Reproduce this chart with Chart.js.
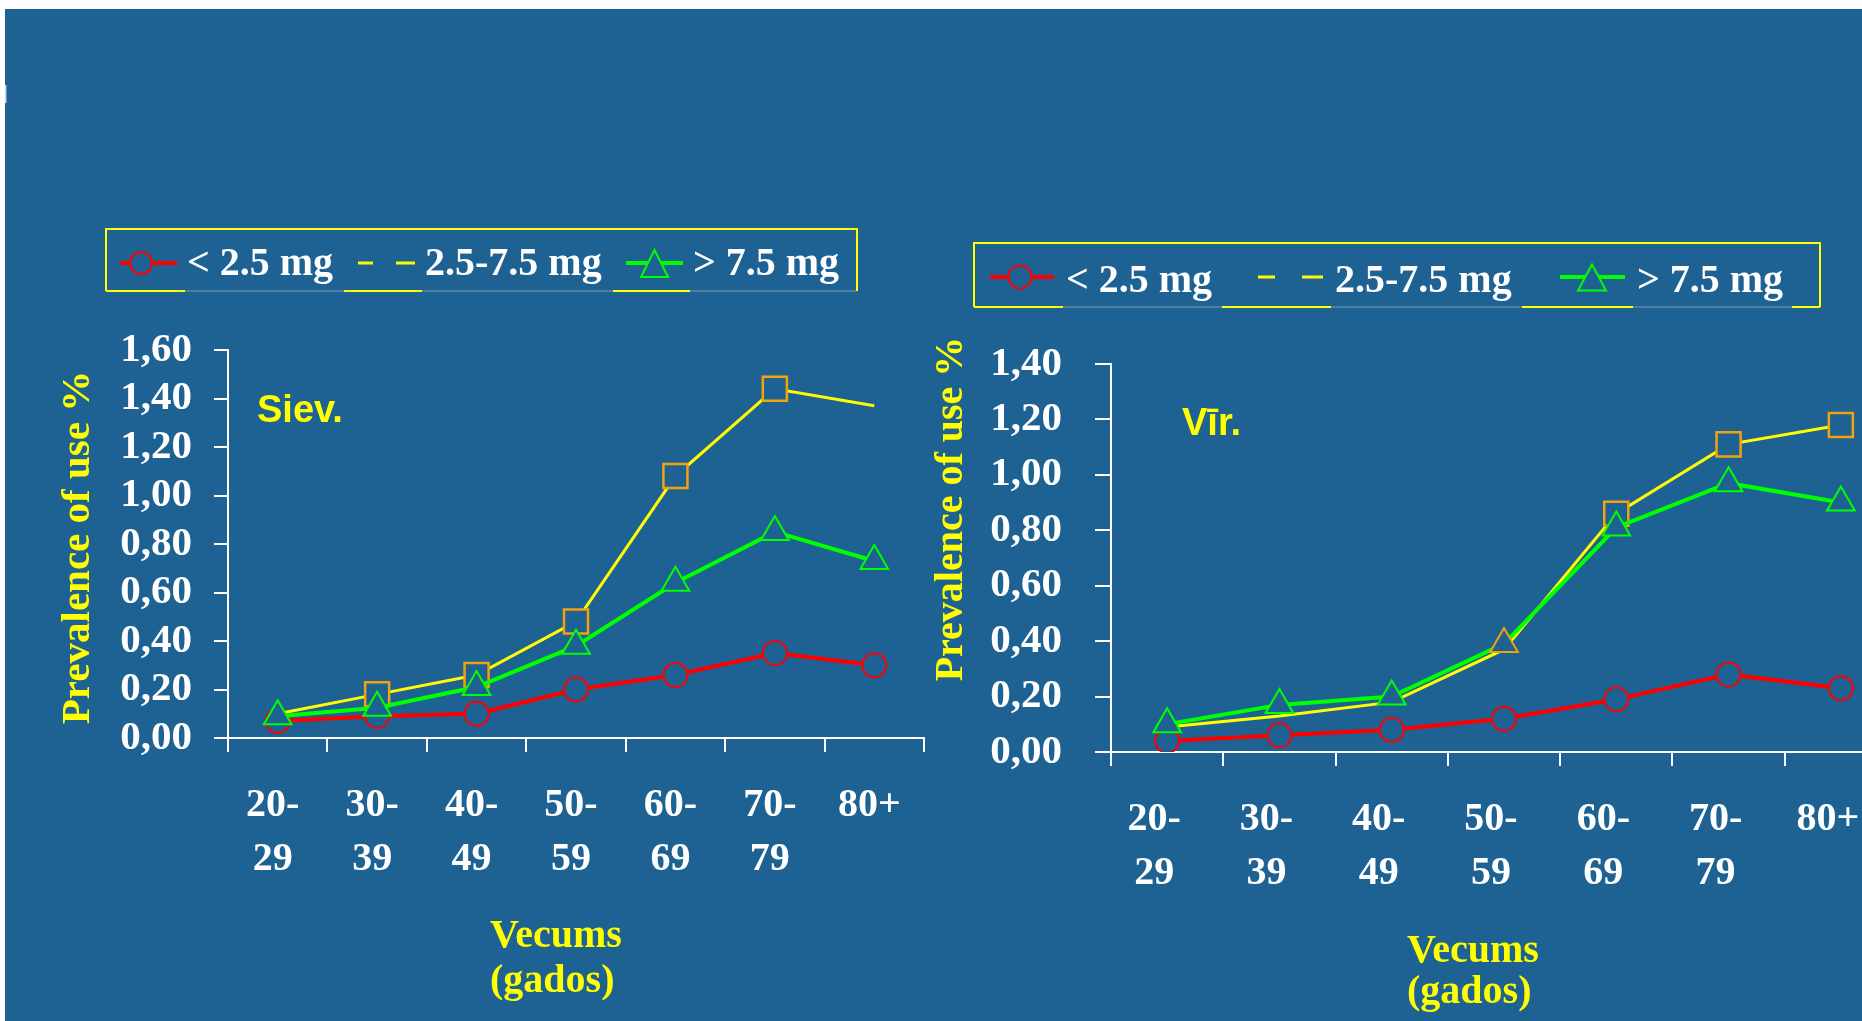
<!DOCTYPE html>
<html>
<head>
<meta charset="utf-8">
<title>Prevalence of use</title>
<script src="https://cdn.jsdelivr.net/npm/chart.js@4.4.1/dist/chart.umd.min.js"></script>
<style>
    html, body { margin: 0; width: 1862px; height: 1021px; overflow: hidden; background: #fff; }
    #slide { position: absolute; left: 5px; top: 9px; right: 0; bottom: 0; background: #1e6193; }
    canvas { position: absolute; }
    #sievChart { left: 0; top: 300px; }
    #virChart { left: 880px; top: 300px; }
    #overlay { position: absolute; left: 0; top: 0; }
    .serif { font-family: "Liberation Serif", "Times New Roman", serif; font-weight: bold; }
    .sans { font-family: "Liberation Sans", Arial, sans-serif; font-weight: bold; }
    .legtext { fill: #fff; font-size: 40px; }
    .yellow { fill: #ffff00; }
</style>
</head>
<body>
<div id="slide"></div>
<canvas id="sievChart" width="960" height="600"></canvas>
<canvas id="virChart" width="1040" height="620"></canvas>

<svg id="overlay" width="1862" height="1021">
    <rect x="5" y="85" width="1.5" height="18" fill="#c8d2dc"/>

    <!-- legend, women -->
    <line x1="106" y1="291" x2="857" y2="291" stroke="#4d7ea3" stroke-width="2"/>
    <polyline points="106,291 106,229 857,229 857,291" fill="none" stroke="#ffff00" stroke-width="2"/>
    <g stroke="#ffff00" stroke-width="2">
        <line x1="106" y1="291" x2="185" y2="291"/>
        <line x1="344" y1="291" x2="422" y2="291"/>
        <line x1="613" y1="291" x2="690" y2="291"/>
    </g>
    <line x1="120" y1="263" x2="177" y2="263" stroke="#ff0000" stroke-width="4"/>
    <circle cx="141" cy="263" r="11" fill="#1e6193" stroke="#ff0000" stroke-width="2"/>
    <text class="serif legtext" x="187" y="275">&lt; 2.5 mg</text>
    <line x1="358" y1="263" x2="373" y2="263" stroke="#ffff00" stroke-width="3"/>
    <line x1="396" y1="263" x2="415" y2="263" stroke="#ffff00" stroke-width="3"/>
    <text class="serif legtext" x="425" y="275">2.5-7.5 mg</text>
    <line x1="626" y1="263" x2="683" y2="263" stroke="#00ff00" stroke-width="4"/>
    <polygon points="654.5,250 641,277 668,277" fill="#1e6193" stroke="#00ff00" stroke-width="2"/>
    <text class="serif legtext" x="693" y="275">&gt; 7.5 mg</text>

    <!-- legend, men -->
    <line x1="974" y1="307" x2="1820" y2="307" stroke="#4d7ea3" stroke-width="2"/>
    <polyline points="974,307 974,243 1820,243 1820,307" fill="none" stroke="#ffff00" stroke-width="2"/>
    <g stroke="#ffff00" stroke-width="2">
        <line x1="974" y1="307" x2="1063" y2="307"/>
        <line x1="1222" y1="307" x2="1331" y2="307"/>
        <line x1="1522" y1="307" x2="1633" y2="307"/>
        <line x1="1792" y1="307" x2="1820" y2="307"/>
    </g>
    <line x1="990" y1="277" x2="1054" y2="277" stroke="#ff0000" stroke-width="4"/>
    <circle cx="1020" cy="277" r="11.5" fill="#1e6193" stroke="#ff0000" stroke-width="2"/>
    <text class="serif legtext" x="1066" y="291.5">&lt; 2.5 mg</text>
    <line x1="1258" y1="277" x2="1275" y2="277" stroke="#ffff00" stroke-width="3"/>
    <line x1="1302" y1="277" x2="1323" y2="277" stroke="#ffff00" stroke-width="3"/>
    <text class="serif legtext" x="1335" y="291.5">2.5-7.5 mg</text>
    <line x1="1560" y1="277" x2="1625" y2="277" stroke="#00ff00" stroke-width="4"/>
    <polygon points="1592,264.5 1578,290.5 1606,290.5" fill="#1e6193" stroke="#00ff00" stroke-width="2"/>
    <text class="serif legtext" x="1637" y="291.5">&gt; 7.5 mg</text>

    <!-- panel labels and axis titles -->
    <text class="sans yellow" x="257" y="421.7" font-size="38">Siev.</text>
    <text class="sans yellow" x="1182" y="435" font-size="38">Vīr.</text>

    <text class="serif yellow" transform="translate(89,547.5) rotate(-90)" text-anchor="middle" font-size="41">Prevalence of use %</text>
    <text class="serif yellow" transform="translate(962,509) rotate(-90)" text-anchor="middle" font-size="40">Prevalence of use %</text>

    <text class="serif yellow" x="490" y="946.7" font-size="40">Vecums</text>
    <text class="serif yellow" x="490" y="991.7" font-size="40">(gados)</text>
    <text class="serif yellow" x="1407" y="961.7" font-size="40">Vecums</text>
    <text class="serif yellow" x="1407" y="1003.3" font-size="40">(gados)</text>
</svg>

<script>
// Age groups (x axis)
const ageGroups = [['20-', '29'], ['30-', '39'], ['40-', '49'], ['50-', '59'], ['60-', '69'], ['70-', '79'], '80+'];
const seriesNames = ['< 2.5 mg', '2.5-7.5 mg', '> 7.5 mg'];

// Siev. (women), prevalence of use %
const sievLow = [0.07, 0.09, 0.10, 0.20, 0.26, 0.35, 0.30];
const sievMid = [0.10, 0.18, 0.26, 0.48, 1.08, 1.44, 1.37];
const sievHigh = [0.09, 0.125, 0.21, 0.38, 0.64, 0.85, 0.73];

// Vīr. (men), prevalence of use %
const virLow = [0.04, 0.06, 0.08, 0.12, 0.19, 0.28, 0.23];
const virMid = [0.09, 0.13, 0.18, 0.37, 0.86, 1.11, 1.18];
const virHigh = [0.10, 0.17, 0.20, 0.39, 0.81, 0.97, 0.90];

const BG = '#1e6193';
const RED = '#ff0000';
const YELLOW = '#ffff00';
const GREEN = '#00ff00';
const ORANGE = '#f0a30a';

Chart.defaults.font.family = '"Liberation Serif", "Times New Roman", serif';
Chart.defaults.font.weight = 'bold';

function makeChart(id, o) {
    const ctx = document.getElementById(id).getContext('2d');
    return new Chart(ctx, {
        type: 'line',
        data: {
            labels: ageGroups,
            datasets: [{
                label: seriesNames[0],
                data: o.low,
                borderColor: RED,
                borderWidth: 4,
                pointStyle: 'circle',
                pointRadius: 12,
                pointBorderColor: RED,
                pointBorderWidth: 2,
                pointBackgroundColor: BG,
                order: 3
            }, {
                label: seriesNames[1],
                data: o.mid,
                borderColor: YELLOW,
                borderWidth: 3,
                pointStyle: 'rect',
                pointRadius: o.squares,
                pointBorderColor: ORANGE,
                pointBorderWidth: 2.5,
                pointBackgroundColor: BG,
                order: 2
            }, {
                label: seriesNames[2],
                data: o.high,
                borderColor: GREEN,
                borderWidth: 4,
                pointStyle: 'triangle',
                pointRadius: 16,
                pointBorderColor: o.triBorder,
                pointBorderWidth: 2,
                pointBackgroundColor: BG,
                order: 1
            }]
        },
        options: {
            responsive: false,
            animation: false,
            layout: { padding: { top: o.padTop, right: o.padRight, left: 0, bottom: 0 } },
            plugins: {
                legend: { display: false },
                tooltip: { enabled: false }
            },
            scales: {
                x: {
                    offset: true,
                    grid: { offset: true, drawOnChartArea: false, color: '#fff', lineWidth: 2, tickLength: 14 },
                    border: { color: '#fff', width: 2 },
                    ticks: {
                        color: '#fff',
                        font: { size: 40, weight: 'bold', lineHeight: 1.35 },
                        padding: 27,
                        maxRotation: 0,
                        autoSkip: false,
                        labelOffset: o.labelOffset
                    },
                    afterFit: (s) => { s.height = o.xHeight; }
                },
                y: {
                    min: 0,
                    max: o.max,
                    grid: { drawOnChartArea: false, color: '#fff', lineWidth: 2, tickLength: o.tickLen },
                    border: { color: '#fff', width: 2 },
                    ticks: {
                        stepSize: 0.2,
                        autoSkip: false,
                        color: '#fff',
                        font: { size: 41, weight: 'bold' },
                        padding: o.tickPad,
                        callback: (v) => v.toFixed(2).replace('.', ',')
                    },
                    afterFit: (s) => { s.width = o.yWidth; }
                }
            }
        }
    });
}

makeChart('sievChart', {
    low: sievLow, mid: sievMid, high: sievHigh, max: 1.6,
    squares: [0, 17, 17, 17, 17, 17, 0],
    triBorder: GREEN,
    padTop: 50, padRight: 36, yWidth: 228, xHeight: 162,
    tickLen: 14, tickPad: 22, labelOffset: -5
});

makeChart('virChart', {
    low: virLow, mid: virMid, high: virHigh, max: 1.4,
    squares: [0, 0, 0, 0, 17, 17, 17],
    triBorder: [GREEN, GREEN, GREEN, ORANGE, GREEN, GREEN, GREEN],
    padTop: 64, padRight: 23, yWidth: 231, xHeight: 168,
    tickLen: 16, tickPad: 33, labelOffset: -13
});
</script>
</body>
</html>
